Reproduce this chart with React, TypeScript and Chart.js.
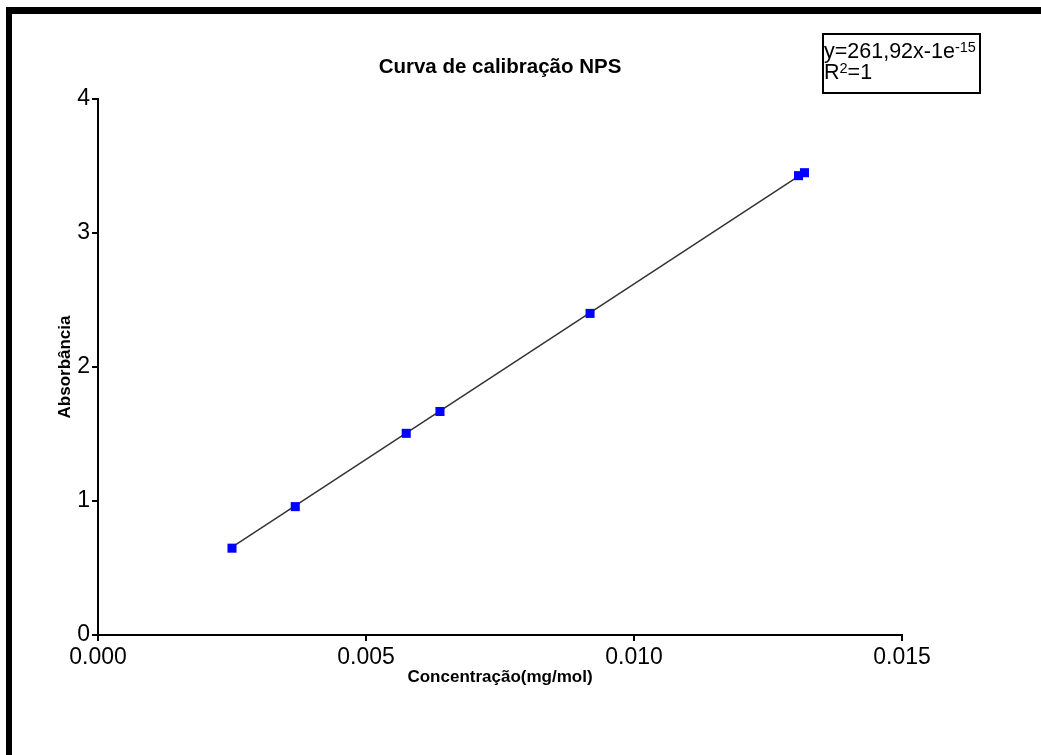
import React, { useEffect, useRef } from "react";
import { Chart, registerables } from "chart.js";

Chart.register(...registerables);

const concentration = [0.0025, 0.00368, 0.00575, 0.00638, 0.00918, 0.01307, 0.01318];
const absorbance = [0.648, 0.958, 1.505, 1.668, 2.4, 3.428, 3.45];
const fitX = [0.0025, 0.01318];
const fitY = [0.655, 3.452];
const xTicks = [0, 0.005, 0.01, 0.015];
const yTicks = [0, 1, 2, 3, 4];

const FONT = "'Liberation Sans', Arial, Helvetica, sans-serif";

export default function App() {
  const ref = useRef<HTMLCanvasElement | null>(null);

  useEffect(() => {
    if (!ref.current) return;
    const chart = new Chart(ref.current, {
      type: "scatter",
      data: {
        datasets: [
          {
            label: "Absorbância",
            data: concentration.map((x, i) => ({ x, y: absorbance[i] })),
            showLine: false,
            pointStyle: "rect",
            pointRadius: 6.4,
            pointHoverRadius: 6.4,
            backgroundColor: "#0000FF",
            borderColor: "#0000FF",
            borderWidth: 0,
            order: 0,
          },
          {
            label: "fit",
            data: fitX.map((x, i) => ({ x, y: fitY[i] })),
            showLine: true,
            pointRadius: 0,
            borderColor: "#333333",
            borderWidth: 1.5,
            order: 1,
          },
        ],
      },
      options: {
        animation: false,
        responsive: false,
        devicePixelRatio: 1,
        layout: { padding: { left: 55, right: 139, top: 99, bottom: 67 } },
        plugins: {
          legend: { display: false },
          tooltip: { enabled: false },
          title: { display: false },
        },
        scales: {
          x: {
            type: "linear",
            position: "bottom",
            min: xTicks[0],
            max: xTicks[xTicks.length - 1],
            afterBuildTicks: (s: any) => {
              s.ticks = xTicks.map((v) => ({ value: v }));
            },
            afterFit: (s: any) => {
              s.height = 53;
            },
            ticks: {
              callback: (v: any) => Number(v).toFixed(3),
              font: { family: FONT, size: 23 },
              color: "#000",
              padding: 3,
              maxRotation: 0,
            },
            grid: {
              drawOnChartArea: false,
              drawTicks: true,
              tickLength: 6,
              color: "#000",
              lineWidth: 2,
            },
            border: { display: true, color: "#000", width: 2 },
            title: {
              display: true,
              text: "Concentração(mg/mol)",
              font: { family: FONT, size: 17, weight: "bold" },
              color: "#000",
              padding: 0,
            },
          },
          y: {
            type: "linear",
            min: yTicks[0],
            max: yTicks[yTicks.length - 1],
            afterBuildTicks: (s: any) => {
              s.ticks = yTicks.map((v) => ({ value: v }));
            },
            afterFit: (s: any) => {
              s.width = 43;
            },
            ticks: {
              callback: (v: any) => String(v),
              font: { family: FONT, size: 23 },
              color: "#000",
              padding: 2,
            },
            grid: {
              drawOnChartArea: false,
              drawTicks: true,
              tickLength: 6,
              color: "#000",
              lineWidth: 2,
            },
            border: { display: true, color: "#000", width: 2 },
            title: {
              display: true,
              text: "Absorbância",
              font: { family: FONT, size: 17, weight: "bold" },
              color: "#000",
              padding: 0,
            },
          },
        },
      },
    } as any);
    return () => chart.destroy();
  }, []);

  const sup: React.CSSProperties = {
    fontSize: 14.5,
    position: "relative",
    top: -6,
    lineHeight: 0,
  };

  return (
    <div
      style={{
        position: "absolute",
        left: 0,
        top: 0,
        width: 1041,
        height: 755,
        background: "#fff",
        overflow: "hidden",
        fontFamily: FONT,
      }}
    >
      <div
        style={{
          position: "absolute",
          left: 6,
          top: 7,
          width: 1041,
          height: 760,
          borderTop: "7px solid #000",
          borderLeft: "6px solid #000",
          boxSizing: "border-box",
        }}
      />
      <canvas ref={ref} width={1041} height={755} style={{ position: "absolute", left: 0, top: 0, width: 1041, height: 755 }} />
      <div
        style={{
          position: "absolute",
          left: 0,
          top: 54,
          width: 1000,
          textAlign: "center",
          fontWeight: "bold",
          fontSize: 20.5,
          lineHeight: "24px",
          color: "#000",
        }}
      >
        Curva de calibração NPS
      </div>
      <div
        style={{
          position: "absolute",
          left: 822,
          top: 33,
          width: 159,
          height: 61,
          boxSizing: "border-box",
          border: "2.7px solid #000",
          paddingTop: 6,
          paddingLeft: 0,
          fontSize: 21.5,
          lineHeight: "21px",
          color: "#000",
          whiteSpace: "nowrap",
        }}
      >
        <div>
          y=261,92x-1e<span style={sup}>-15</span>
        </div>
        <div>
          R<span style={sup}>2</span>=1
        </div>
      </div>
    </div>
  );
}
